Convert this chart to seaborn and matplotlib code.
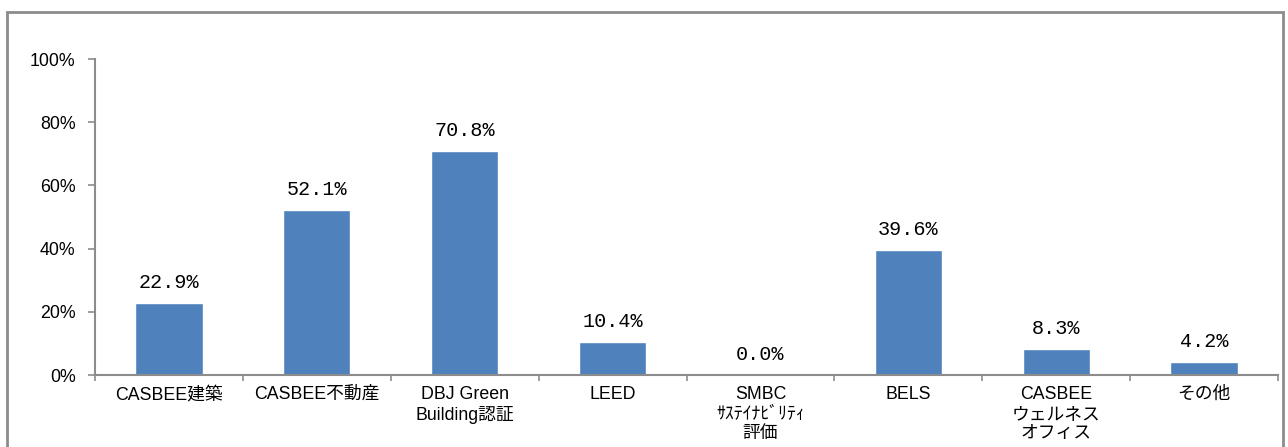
import matplotlib
matplotlib.use("Agg")
import matplotlib.pyplot as plt
import seaborn as sns
import pandas as pd
import numpy as np
from matplotlib.patches import Rectangle
from matplotlib.ticker import FixedLocator, PercentFormatter

categories = ["CASBEE建築", "CASBEE不動産", "DBJ Green\nBuilding認証", "LEED",
              "SMBC\nｻｽﾃｲﾅﾋﾞﾘﾃｨ\n評価", "BELS", "CASBEE\nウェルネス\nオフィス", "その他"]
values = [22.9, 52.1, 70.8, 10.4, 0.0, 39.6, 8.3, 4.2]
yticks = [0, 20, 40, 60, 80, 100]

sns.set_theme(style="white")
plt.rcParams['font.family'] = ['Liberation Sans', 'Noto Sans CJK JP', 'DejaVu Sans']

df = pd.DataFrame({"cat": categories, "val": values})

fig = plt.figure(figsize=(12.88, 4.47), dpi=100)
ax = fig.add_axes([95/1288, 1-375/447, (1278-95)/1288, (375-59)/447])
sns.barplot(data=df, x="cat", y="val", color="#4F81BD", width=0.455, ax=ax, saturation=1)

ax.set_xlim(-0.5, len(categories)-0.5)
ax.set_ylim(0, 100)
ax.set_yticks(yticks)
ax.yaxis.set_major_formatter(PercentFormatter(decimals=0))
ax.set_xlabel("")
ax.set_ylabel("")
for s in ["top", "right"]:
    ax.spines[s].set_visible(False)
for s in ["left", "bottom"]:
    ax.spines[s].set_color("#8c8c8c")
    ax.spines[s].set_linewidth(1.5)

ax.tick_params(axis="y", direction="out", length=5, width=1.2, color="#8c8c8c",
               labelsize=12.8, labelcolor="black", pad=9, left=True)
ax.tick_params(axis="x", which="major", length=0, labelsize=12.8, labelcolor="black", pad=8)
ax.xaxis.set_minor_locator(FixedLocator(np.arange(-0.5, len(categories), 1.0)))
ax.tick_params(axis="x", which="minor", direction="out", length=4, width=1.2, color="#8c8c8c", bottom=True)
for lab in ax.get_xticklabels():
    lab.set_linespacing(1.2)

for i, v in enumerate(values):
    ax.text(i, v + 3.5, f"{v:.1f}%", ha="center", va="bottom", fontsize=14.5,
            family=['Liberation Mono', 'Noto Sans CJK JP'], color="black")

fig.patches.append(Rectangle((7/1288, -0.05), (1283-7)/1288, 1-12/447+0.05,
                             transform=fig.transFigure, fill=False,
                             edgecolor="#8c8c8c", linewidth=2))

fig.savefig("out.png", dpi=100)
